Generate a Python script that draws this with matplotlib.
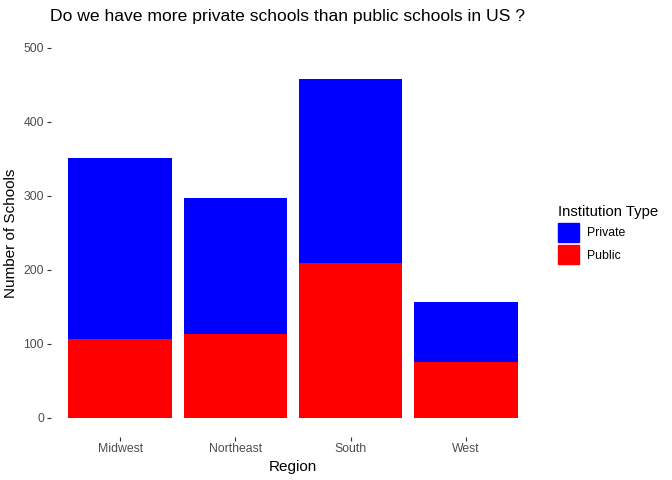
import matplotlib
matplotlib.use("Agg")
from matplotlib import pyplot as plt
from matplotlib.patches import Patch

plt.rcParams['font.family'] = ['Liberation Sans', 'DejaVu Sans']

regions = ['Midwest', 'Northeast', 'South', 'West']
public = [107, 114, 209, 76]
private = [245, 183, 249, 81]
y_ticks = [0, 100, 200, 300, 400, 500]

fig = plt.figure(figsize=(6.72, 4.8), dpi=100)
ax = fig.add_axes([51 / 672, 1 - 436.5 / 480, (535 - 51) / 672, (436.5 - 29.5) / 480])

x = range(len(regions))
ax.bar(x, public, width=0.9, color='#FF0000', label='Public')
ax.bar(x, private, width=0.9, bottom=public, color='#0000FF', label='Private')

ax.set_xlim(-0.6, len(regions) - 0.4)
ax.set_ylim(-25, 525)
ax.set_xticks(list(x))
ax.set_xticklabels(regions)
ax.set_yticks(y_ticks)

for s in ax.spines.values():
    s.set_visible(False)
ax.tick_params(axis='both', length=3, width=0.8, color='#333333',
               labelcolor='#4D4D4D', labelsize=8.8)
ax.tick_params(axis='x', pad=2)
ax.tick_params(axis='y', pad=2)

ax.set_xlabel('Region', fontsize=11, labelpad=3)
ax.set_ylabel('Number of Schools', fontsize=11, labelpad=4)

fig.text(50 / 672, 1 - 17 / 480, 'Do we have more private schools than public schools in US ?',
         fontsize=12.6, ha='left', va='center')

handles = [Patch(color='#0000FF'), Patch(color='#FF0000')]
leg = fig.legend(handles, ['Private', 'Public'], title='Institution Type',
                 loc='upper left', bbox_to_anchor=(547 / 672, 1 - 194 / 480),
                 frameon=False, fontsize=8.8, title_fontsize=10.7,
                 handlelength=1.75, handleheight=2.0, labelspacing=0.3,
                 handletextpad=0.65, alignment='left')

fig.savefig('out.png', dpi=100)
plt.close()
